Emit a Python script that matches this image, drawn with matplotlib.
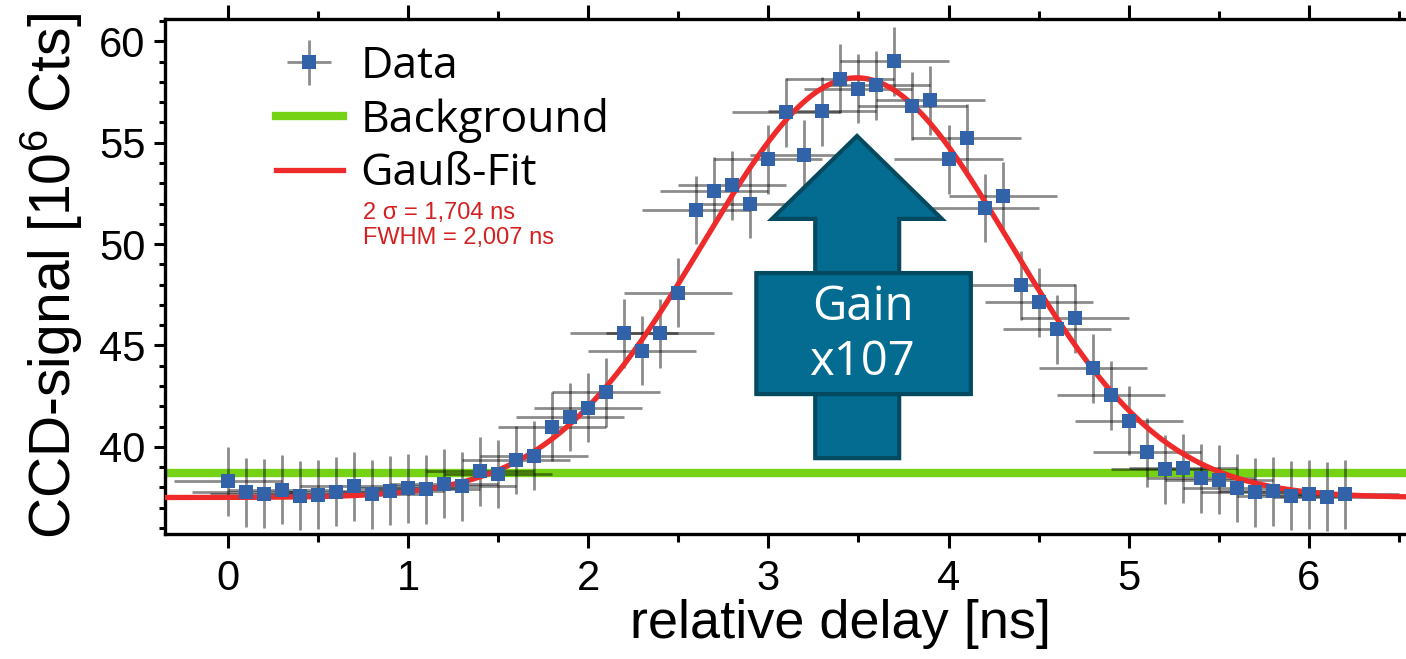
import numpy as np
import matplotlib
matplotlib.use('Agg')
from matplotlib import pyplot as plt
from matplotlib.patches import Polygon, FancyBboxPatch
from matplotlib.ticker import MultipleLocator

delay = [0.0, 0.1, 0.2, 0.3, 0.4, 0.5, 0.6, 0.7, 0.8, 0.9,
         1.0, 1.1, 1.2, 1.3, 1.4, 1.5, 1.6, 1.7, 1.8, 1.9,
         2.0, 2.1, 2.2, 2.3, 2.4, 2.5, 2.6, 2.7, 2.8, 2.9,
         3.0, 3.1, 3.2, 3.3, 3.4, 3.5, 3.6, 3.7, 3.8, 3.9,
         4.0, 4.1, 4.2, 4.3, 4.4, 4.5, 4.6, 4.7, 4.8, 4.9,
         5.0, 5.1, 5.2, 5.3, 5.4, 5.5, 5.6, 5.7, 5.8, 5.9,
         6.0, 6.1, 6.2]
signal = [38.29, 37.75, 37.69, 37.89, 37.58, 37.63, 37.79, 38.05, 37.67, 37.84,
          37.95, 37.90, 38.18, 38.05, 38.80, 38.66, 39.35, 39.56, 40.98, 41.47,
          41.92, 42.70, 45.60, 44.75, 45.59, 47.60, 51.68, 52.60, 52.91, 51.98,
          54.19, 56.51, 54.41, 56.56, 58.15, 57.66, 57.84, 59.02, 56.81, 57.10,
          54.19, 55.22, 51.78, 52.37, 47.97, 47.14, 45.80, 46.34, 43.87, 42.54,
          41.29, 39.72, 38.90, 38.94, 38.46, 38.38, 37.97, 37.75, 37.80, 37.59,
          37.67, 37.53, 37.66]
x_err = 0.3
y_err = 1.7

background = 38.72

# Gauss-Fit Parameter
fit_center = 3.49
fit_sigma = 0.852
fit_amp = 20.7
fit_offset = 37.5

x_min, x_max = -0.35, 6.54
y_min, y_max = 35.7, 61.1

plt.rcParams.update({
    'font.family': ['Liberation Sans', 'DejaVu Sans'],
    'mathtext.fontset': 'custom',
    'mathtext.rm': 'Liberation Sans',
})

fig = plt.figure(figsize=(14.06, 6.59), dpi=100)
ax = fig.add_axes([165 / 1406, 125 / 659, 1 - 165 / 1406, 515 / 659])

ax.axhline(background, color='#76d215', lw=6, zorder=1, label='Background')

eb = ax.errorbar(delay, signal, xerr=x_err, yerr=y_err, fmt='s', color='#3263a8',
                 markersize=10.5, markeredgewidth=0, ecolor=(0, 0, 0, 0.45),
                 elinewidth=2, capsize=0, label='Data')
eb[0].set_zorder(5)
for col in eb[2]:
    col.set_zorder(2)

xf = np.linspace(x_min, x_max, 600)
yf = fit_offset + fit_amp * np.exp(-(xf - fit_center) ** 2 / (2 * fit_sigma ** 2))
ax.plot(xf, yf, color='#ee2a2a', lw=3.8, zorder=3, label='Gauß-Fit')

ax.set_xlim(x_min, x_max)
ax.set_ylim(y_min, y_max)
ax.xaxis.set_major_locator(MultipleLocator(1))
ax.xaxis.set_minor_locator(MultipleLocator(0.5))
ax.yaxis.set_major_locator(MultipleLocator(5))
ax.yaxis.set_minor_locator(MultipleLocator(1))
ax.tick_params(which='both', direction='out', width=2.2, top=True, right=False,
               labelsize=30)
ax.tick_params(axis='x', which='major', length=10, pad=8)
ax.tick_params(axis='x', which='minor', length=5.5)
ax.tick_params(axis='y', which='major', length=8, pad=6)
ax.tick_params(axis='y', which='minor', length=4.5)
for s in ['left', 'bottom', 'top']:
    ax.spines[s].set_linewidth(2.4)
ax.spines['right'].set_visible(False)

ax.set_xlabel('relative delay [ns]', fontsize=39, labelpad=0)
ax.xaxis.label.set_x(0.544)
ax.set_ylabel('CCD-signal [10$^{\\mathregular{6}}$ Cts]', fontsize=41, labelpad=10)

handles, labels = ax.get_legend_handles_labels()
order = [labels.index('Data'), labels.index('Background'), labels.index('Gauß-Fit')]
ax.legend([handles[i] for i in order], [labels[i] for i in order],
          loc='upper left', bbox_to_anchor=(0.075, 0.985), frameon=False,
          prop={'family': 'Open Sans', 'size': 32}, handlelength=1.5,
          handletextpad=0.4, labelspacing=0.2, borderaxespad=0)

ax.text(0.75, 51.55, '2 σ = 1,704 ns', color='#d42020', fontsize=17, va='center')
ax.text(0.75, 50.32, 'FWHM = 2,007 ns', color='#d42020', fontsize=17, va='center')

# Pfeil "Gain"
arrow_fill = '#046c90'
arrow_edge = '#03495f'
arrow = Polygon([(3.26, 39.44), (3.26, 51.24), (3.02, 51.24), (3.492, 55.33),
                 (3.963, 51.24), (3.726, 51.24), (3.726, 39.44)],
                closed=True, facecolor=arrow_fill, edgecolor=arrow_edge, lw=3, zorder=6)
ax.add_patch(arrow)
box = FancyBboxPatch((2.933, 42.6), 4.124 - 2.933, 48.57 - 42.6,
                     boxstyle='round,pad=0,rounding_size=0.03',
                     facecolor=arrow_fill, edgecolor=arrow_edge, lw=3, zorder=7,
                     mutation_aspect=1 / 9)
ax.add_patch(box)
ax.text(3.527, 46.89, 'Gain', color='white', fontsize=34, family='Open Sans',
        ha='center', va='center', zorder=8)
ax.text(3.521, 44.19, 'x107', color='white', fontsize=34, family='Open Sans',
        ha='center', va='center', zorder=8)

fig.savefig('out.png', dpi=100)
